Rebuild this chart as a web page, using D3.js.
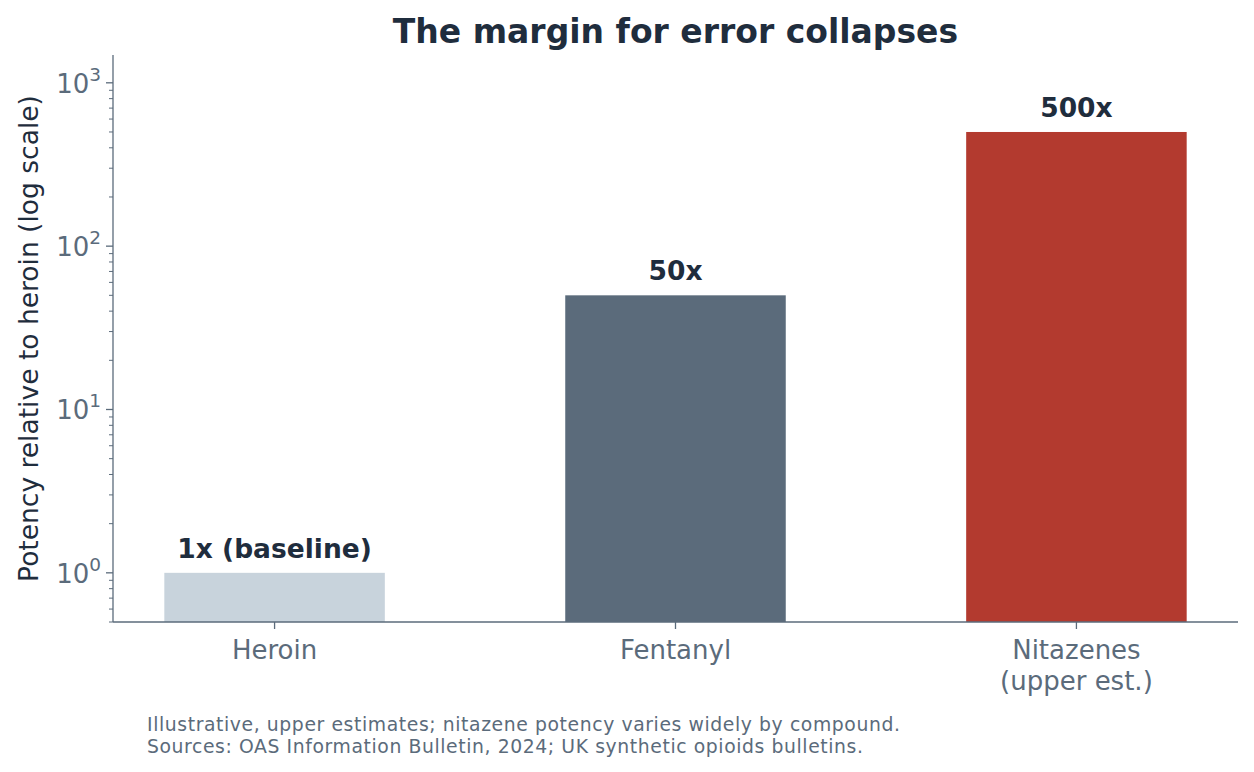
<!DOCTYPE html>
<html>
<head>
<meta charset="utf-8">
<script src="https://cdn.jsdelivr.net/npm/d3@7"></script>
<style>
  body { margin: 0; background: #fff; }
  text { font-family: "DejaVu Sans", sans-serif; }
</style>
</head>
<body>
<svg id="chart" width="1254" height="772"></svg>
<script>
var categories = ["Heroin", "Fentanyl", "Nitazenes\n(upper est.)"];
var potency = [1, 50, 500];
var barLabels = ["1x (baseline)", "50x", "500x"];
var barColors = ["#c8d3dc", "#5b6b7b", "#b33a2f"];
var yTicks = [0, 1, 2, 3];
var notes = [
  "Illustrative, upper estimates; nitazene potency varies widely by compound.",
  "Sources: OAS Information Bulletin, 2024; UK synthetic opioids bulletins."
];

var svg = d3.select("#chart"),
    margin = {top: 55, right: 16, bottom: 150, left: 113},
    width  = +svg.attr("width")  - margin.left - margin.right,
    height = +svg.attr("height") - margin.top  - margin.bottom;

var axisColor = "#5b6b7b", dark = "#1f2d3d";

var x = d3.scaleLinear().domain([-0.403, 2.403]).range([0, width]);
var y = d3.scaleLog().domain([0.5, 1480]).range([height, 0]);
var barW = x(0.55) - x(0);

var g = svg.append("g")
    .attr("transform", "translate(" + margin.left + "," + margin.top + ")");

// bars
g.selectAll("rect.bar")
  .data(potency)
  .enter().append("rect")
    .attr("class", "bar")
    .attr("x", function(d, i) { return x(i) - barW / 2; })
    .attr("y", function(d) { return y(d); })
    .attr("width", barW)
    .attr("height", function(d) { return height - y(d); })
    .attr("fill", function(d, i) { return barColors[i]; });

g.selectAll("text.val")
  .data(potency)
  .enter().append("text")
    .attr("class", "val")
    .attr("x", function(d, i) { return x(i); })
    .attr("y", function(d) { return y(d) - 15; })
    .attr("text-anchor", "middle")
    .attr("font-size", 26.5)
    .attr("font-weight", "bold")
    .attr("fill", dark)
    .text(function(d, i) { return barLabels[i]; });

// y axis: major + minor ticks
var minor = [];
[-1, 0, 1, 2, 3].forEach(function(e) {
  for (var k = 2; k <= 9; k++) {
    var v = k * Math.pow(10, e);
    if (v >= 0.5 && v <= 1480) minor.push(v);
  }
});

var yAxis = g.append("g");
yAxis.append("line")
    .attr("x1", 0).attr("x2", 0).attr("y1", 0).attr("y2", height)
    .attr("stroke", axisColor).attr("stroke-width", 1.3);
yAxis.selectAll("line.minor")
  .data(minor)
  .enter().append("line")
    .attr("class", "minor")
    .attr("x1", -4).attr("x2", 0)
    .attr("y1", function(d) { return y(d); })
    .attr("y2", function(d) { return y(d); })
    .attr("stroke", axisColor).attr("stroke-width", 1);
yAxis.selectAll("line.major")
  .data(yTicks)
  .enter().append("line")
    .attr("class", "major")
    .attr("x1", -7).attr("x2", 0)
    .attr("y1", function(d) { return y(Math.pow(10, d)); })
    .attr("y2", function(d) { return y(Math.pow(10, d)); })
    .attr("stroke", axisColor).attr("stroke-width", 1.3);
var yl = yAxis.selectAll("text.ytick")
  .data(yTicks)
  .enter().append("text")
    .attr("class", "ytick")
    .attr("x", -12)
    .attr("y", function(d) { return y(Math.pow(10, d)) + 10; })
    .attr("text-anchor", "end")
    .attr("font-size", 26)
    .attr("fill", axisColor);
yl.append("tspan").text("10");
yl.append("tspan").attr("dy", -12).attr("font-size", 18.5).text(function(d) { return d; });

// x axis
var xAxis = g.append("g").attr("transform", "translate(0," + height + ")");
xAxis.append("line")
    .attr("x1", 0).attr("x2", width)
    .attr("stroke", axisColor).attr("stroke-width", 1.3);
xAxis.selectAll("line.tick")
  .data(categories)
  .enter().append("line")
    .attr("class", "tick")
    .attr("x1", function(d, i) { return x(i); })
    .attr("x2", function(d, i) { return x(i); })
    .attr("y1", 0).attr("y2", 7)
    .attr("stroke", axisColor).attr("stroke-width", 1.3);
xAxis.selectAll("text.xtick")
  .data(categories)
  .enter().append("text")
    .attr("class", "xtick")
    .attr("text-anchor", "middle")
    .attr("font-size", 26)
    .attr("fill", axisColor)
    .each(function(d, i) {
      var t = d3.select(this);
      d.split("\n").forEach(function(line, j) {
        t.append("tspan").attr("x", x(i)).attr("y", 37 + j * 31).text(line);
      });
    });

// y label
g.append("text")
    .attr("transform", "translate(-75," + (height / 2) + ") rotate(-90)")
    .attr("text-anchor", "middle")
    .attr("font-size", 26.5)
    .attr("fill", dark)
    .text("Potency relative to heroin (log scale)");

// title
svg.append("text")
    .attr("x", margin.left + width / 2)
    .attr("y", 43)
    .attr("text-anchor", "middle")
    .attr("font-size", 33)
    .attr("font-weight", "bold")
    .attr("fill", dark)
    .text("The margin for error collapses");

// footnote
svg.selectAll("text.note")
  .data(notes)
  .enter().append("text")
    .attr("class", "note")
    .attr("x", 147)
    .attr("y", function(d, i) { return 731 + i * 22; })
    .attr("font-size", 18.8)
    .attr("letter-spacing", 0.6)
    .attr("fill", axisColor)
    .text(function(d) { return d; });
</script>
</body>
</html>
